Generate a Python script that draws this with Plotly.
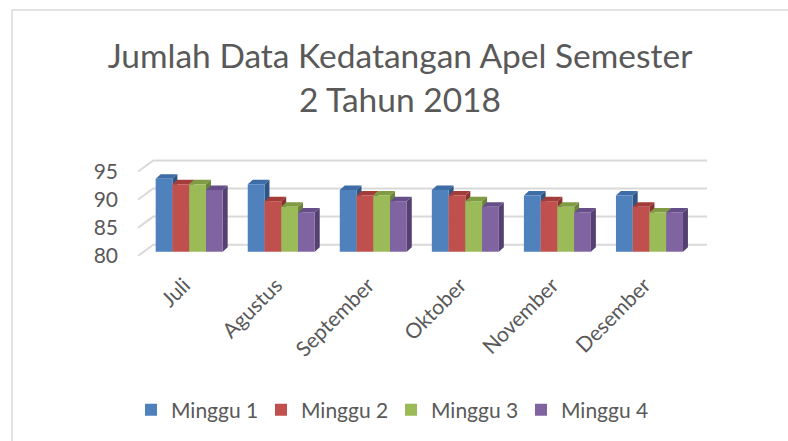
import plotly.graph_objects as go

# ---------------- data ----------------
categories = ["Juli", "Agustus", "September", "Oktober", "November", "Desember"]
series_names = ["Minggu 1", "Minggu 2", "Minggu 3", "Minggu 4"]
minggu_1 = [93, 92, 91, 91, 90, 90]
minggu_2 = [92, 89, 90, 90, 89, 88]
minggu_3 = [92, 88, 90, 89, 88, 87]
minggu_4 = [91, 87, 89, 88, 87, 87]
y_ticks = [80, 85, 90, 95]
chart_title = "Jumlah Data Kedatangan Apel Semester<br>2 Tahun 2018"

# ---------------- style ----------------
series_values = [minggu_1, minggu_2, minggu_3, minggu_4]
front_colors = ["#4F81BD", "#C0504D", "#9BBB59", "#8064A2"]
top_colors = ["#3E6CA6", "#A23D3A", "#7F9C45", "#664F88"]
side_colors = ["#2F5585", "#8A3230", "#6A853A", "#54416F"]
FONT = "Lato, 'Open Sans', sans-serif"
TXT = "#595959"
GRID = "#D9D9D9"

W, H = 788, 441
L_PX, R_PX, T_PX, B_PX = 130, 715, 156, 256
x_range = [-0.643, 5.712]
y_range = [79.95, 97.75]          # floor / wall plane (tick labels + gridlines)
bar_shift = 0.71                  # bars stand slightly behind the floor front edge
y_bar_range = [y_range[0] - bar_shift, y_range[1] - bar_shift]
base_val = y_ticks[0]

bar_w = 0.182
depth_dx = 0.054                  # bar depth (x units)
depth_dy = 0.80                   # bar depth (y units)
wall_dx_front = -0.5535           # left front of floor
wall_dx_back = -0.390             # left back of wall
wall_x_right = 5.625              # right end of back wall
wall_dy = 1.96                    # depth rise of gridlines

fig = go.Figure()

# back wall gridlines (floor plane axis y)
gx, gy = [], []
for t in y_ticks:
    gx += [wall_dx_front, wall_dx_back, wall_x_right, None]
    gy += [t, t + wall_dy, t + wall_dy, None]
fig.add_trace(go.Scatter(x=gx, y=gy, mode="lines", line=dict(color=GRID, width=2),
                         hoverinfo="skip", showlegend=False, xaxis="x", yaxis="y"))

# 3D side and top faces (axis y2)
n = len(categories)
for k, vals in enumerate(series_values):
    off = -2 * bar_w + k * bar_w
    sx, sy, tx, ty = [], [], [], []
    for i, v in enumerate(vals):
        xl = i + off
        xr = xl + bar_w
        sx += [xr, xr, xr + depth_dx, xr + depth_dx, xr, None]
        sy += [base_val, v, v + depth_dy, base_val + depth_dy, base_val, None]
        tx += [xl, xr, xr + depth_dx, xl + depth_dx, xl, None]
        ty += [v, v, v + depth_dy, v + depth_dy, v, None]
    fig.add_trace(go.Scatter(x=sx, y=sy, mode="lines", fill="toself",
                             fillcolor=side_colors[k], line=dict(width=0, color=side_colors[k]),
                             hoverinfo="skip", showlegend=False, xaxis="x", yaxis="y2"))
    fig.add_trace(go.Scatter(x=tx, y=ty, mode="lines", fill="toself",
                             fillcolor=top_colors[k], line=dict(width=0, color=top_colors[k]),
                             hoverinfo="skip", showlegend=False, xaxis="x", yaxis="y2"))

# bar front faces (axis y3)
for k, (name, vals) in enumerate(zip(series_names, series_values)):
    fig.add_trace(go.Bar(
        x=list(range(n)), y=[v - base_val for v in vals], base=base_val,
        name=name, width=bar_w, offset=-2 * bar_w + k * bar_w,
        marker=dict(color=front_colors[k], line=dict(width=0)),
        customdata=vals, hovertemplate="%{customdata}<extra>" + name + "</extra>",
        xaxis="x", yaxis="y3"))

fig.update_layout(
    width=W, height=H,
    margin=dict(l=L_PX, r=W - R_PX, t=T_PX, b=H - B_PX, pad=0),
    paper_bgcolor="white", plot_bgcolor="rgba(0,0,0,0)",
    barmode="overlay",
    title=dict(text=chart_title, font=dict(family=FONT, size=33.5, color=TXT),
               x=400 / W, xanchor="center", xref="container",
               y=1 - 68 / H, yanchor="middle", yref="container"),
    xaxis=dict(range=x_range, tickmode="array", tickvals=list(range(n)), ticktext=categories,
               tickangle=-45, showgrid=False, zeroline=False, showline=False, ticks="",
               ticklabelstandoff=12, ticklabelshift=-5,
               tickfont=dict(family=FONT, size=21, color=TXT), fixedrange=True),
    yaxis=dict(range=y_range, tickmode="array", tickvals=y_ticks, showgrid=False,
               zeroline=False, showline=False, ticks="", ticklabelstandoff=11,
               tickfont=dict(family=FONT, size=21, color=TXT), fixedrange=True),
    yaxis2=dict(range=y_bar_range, overlaying="y", visible=False, fixedrange=True),
    yaxis3=dict(range=y_bar_range, overlaying="y", visible=False, fixedrange=True),
    legend=dict(orientation="h", xref="container", yref="container",
                x=131 / W, xanchor="left", y=1 - 410 / H, yanchor="middle",
                font=dict(family=FONT, size=21, color=TXT),
                entrywidth=85, entrywidthmode="pixels", itemwidth=30,
                traceorder="normal", bgcolor="rgba(0,0,0,0)"),
    shapes=[dict(type="rect", xref="paper", yref="paper",
                 x0=(12 - L_PX) / (R_PX - L_PX), x1=(820 - L_PX) / (R_PX - L_PX),
                 y0=(B_PX - 470) / (B_PX - T_PX), y1=(B_PX - 10) / (B_PX - T_PX),
                 line=dict(color=GRID, width=1.5), fillcolor="rgba(0,0,0,0)", layer="below")],
)

fig.write_html("out.html")
